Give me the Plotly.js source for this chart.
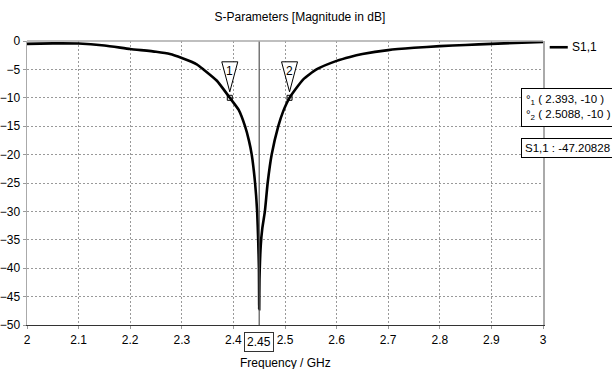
<!DOCTYPE html>
<html>
<head>
<meta charset="utf-8">
<script src="https://cdn.plot.ly/plotly-3.0.1.min.js"></script>
<style>html,body{margin:0;padding:0;background:#fff;}#chart{width:612px;height:369px;}</style>
</head>
<body>
<div id="chart"></div>
<script>
// Data
const freq = [2.0, 2.05, 2.1, 2.15, 2.2, 2.25, 2.277, 2.3, 2.329, 2.342, 2.368, 2.393, 2.41, 2.4225, 2.43, 2.4355, 2.442, 2.446, 2.448, 2.4495, 2.45, 2.4505, 2.453, 2.456, 2.461, 2.4664, 2.4742, 2.487, 2.4968, 2.5088, 2.535, 2.561, 2.6, 2.626, 2.65, 2.7, 2.75, 2.8, 2.85, 2.9, 3.0];
const s11 = [-0.5, -0.42, -0.45, -0.8, -1.4, -1.9, -2.3, -3.0, -4.1, -5.0, -7.0, -10, -12.1, -15, -17.5, -20, -25, -30, -35, -40, -47.2, -42, -36, -33, -30, -25, -20, -15, -12.3, -10, -6.8, -5.0, -3.5, -2.8, -2.3, -1.6, -1.2, -0.9, -0.7, -0.5, -0.15];
const markerX = [2.393, 2.5088];
const markerY = [-10, -10];
const markerLabels = ['1', '2'];
const xTicks = [2, 2.1, 2.2, 2.3, 2.4, 2.5, 2.6, 2.7, 2.8, 2.9, 3];
const xTickText = ['2', '2.1', '2.2', '2.3', '2.4', '2.5', '2.6', '2.7', '2.8', '2.9', '3'];
const yTicks = [0, -5, -10, -15, -20, -25, -30, -35, -40, -45, -50];
const cursorX = 2.45;
const minValue = -47.20828;
const seriesName = 'S1,1';

const FONT = '"Liberation Sans", Arial, sans-serif';

const traces = [
  {x: freq, y: s11, mode: 'lines', line: {color: '#000', width: 2.6, shape: 'spline', smoothing: 0.5}, showlegend: false, hoverinfo: 'none'},
  {x: markerX, y: markerY, mode: 'markers', marker: {symbol: 'square-open', size: 5, color: '#000', line: {width: 1}}, showlegend: false, hoverinfo: 'none'}
];

const shapes = [
  {type: 'line', xref: 'x', yref: 'paper', x0: cursorX, x1: cursorX, y0: 0, y1: 1, line: {color: '#555', width: 1.2}},
  {type: 'line', xref: 'paper', yref: 'paper', x0: 0, x1: 1, y0: 1, y1: 1, line: {color: '#aaa', width: 1.5}},
  {type: 'line', xref: 'paper', yref: 'paper', x0: 1.013, x1: 1.048, y0: 0.978, y1: 0.978, line: {color: '#000', width: 2.6}}
];
markerX.forEach((mx, i) => {
  shapes.push({type: 'path', xref: 'x', yref: 'y', xsizemode: 'pixel', ysizemode: 'pixel',
    xanchor: mx, yanchor: markerY[i], path: 'M -8 36 L 8 36 L 0 6 Z',
    line: {color: '#000', width: 1}, fillcolor: 'rgba(255,255,255,0.9)'});
});

const annotations = [
  {xref: 'paper', yref: 'paper', x: 1.053, y: 0.978, xanchor: 'left', yanchor: 'middle', text: seriesName, showarrow: false, font: {family: FONT, size: 12, color: '#000'}},
  {xref: 'x', yref: 'paper', x: cursorX, y: -0.025, xanchor: 'center', yanchor: 'top', text: String(cursorX), showarrow: false, bordercolor: '#333', borderwidth: 1, borderpad: 2, bgcolor: '#fff', font: {family: FONT, size: 12, color: '#000'}},
  {xref: 'paper', yref: 'paper', x: 0.957, y: 0.835, xanchor: 'left', yanchor: 'top', align: 'left', showarrow: false,
    text: '°<sub>1</sub> ( ' + markerX[0] + ', ' + markerY[0] + ' )<br>°<sub>2</sub> ( ' + markerX[1] + ', ' + markerY[1] + ' )',
    bordercolor: '#000', borderwidth: 1, borderpad: 4, bgcolor: '#fff', font: {family: FONT, size: 11.5, color: '#000'}},
  {xref: 'paper', yref: 'paper', x: 0.957, y: 0.657, xanchor: 'left', yanchor: 'top', align: 'left', showarrow: false,
    text: seriesName + ' : ' + minValue, bordercolor: '#000', borderwidth: 1, borderpad: 3, bgcolor: '#fff', font: {family: FONT, size: 11.5, color: '#000'}},
  {xref: 'paper', yref: 'paper', x: 0.5, y: -0.103, xanchor: 'center', yanchor: 'top', text: 'Frequency / GHz', showarrow: false, font: {family: FONT, size: 12, color: '#000'}}
];
markerX.forEach((mx, i) => {
  annotations.push({xref: 'x', yref: 'y', x: mx, y: markerY[i], yshift: 27, xanchor: 'center', yanchor: 'middle', text: markerLabels[i], showarrow: false, font: {family: FONT, size: 12, color: '#000'}});
});

const layout = {
  width: 612, height: 369,
  margin: {l: 27, r: 69, t: 41, b: 44, pad: 0},
  paper_bgcolor: '#fff', plot_bgcolor: '#fff',
  title: {text: 'S-Parameters [Magnitude in dB]', x: 0.49, xanchor: 'center', y: 0.955, yanchor: 'middle', font: {family: FONT, size: 12, color: '#000'}},
  xaxis: {range: [2, 3], tickvals: xTicks, ticktext: xTickText, showgrid: true, gridcolor: '#999', griddash: '2px,2px', gridwidth: 1,
    zeroline: false, showline: true, linecolor: '#333', linewidth: 1.2, ticks: 'outside', ticklen: 3, tickcolor: '#999',
    tickfont: {family: FONT, size: 12, color: '#000'}},
  yaxis: {range: [-50, 0], tickvals: yTicks, showgrid: true, gridcolor: '#999', griddash: '2px,2px', gridwidth: 1,
    zeroline: false, showline: true, mirror: true, linecolor: '#aaa', linewidth: 1.5, ticks: 'outside', ticklen: 3, tickcolor: '#999',
    tickfont: {family: FONT, size: 12, color: '#000'}},
  shapes: shapes,
  annotations: annotations,
  showlegend: false
};

Plotly.newPlot('chart', traces, layout, {staticPlot: true, displayModeBar: false});
</script>
</body>
</html>
